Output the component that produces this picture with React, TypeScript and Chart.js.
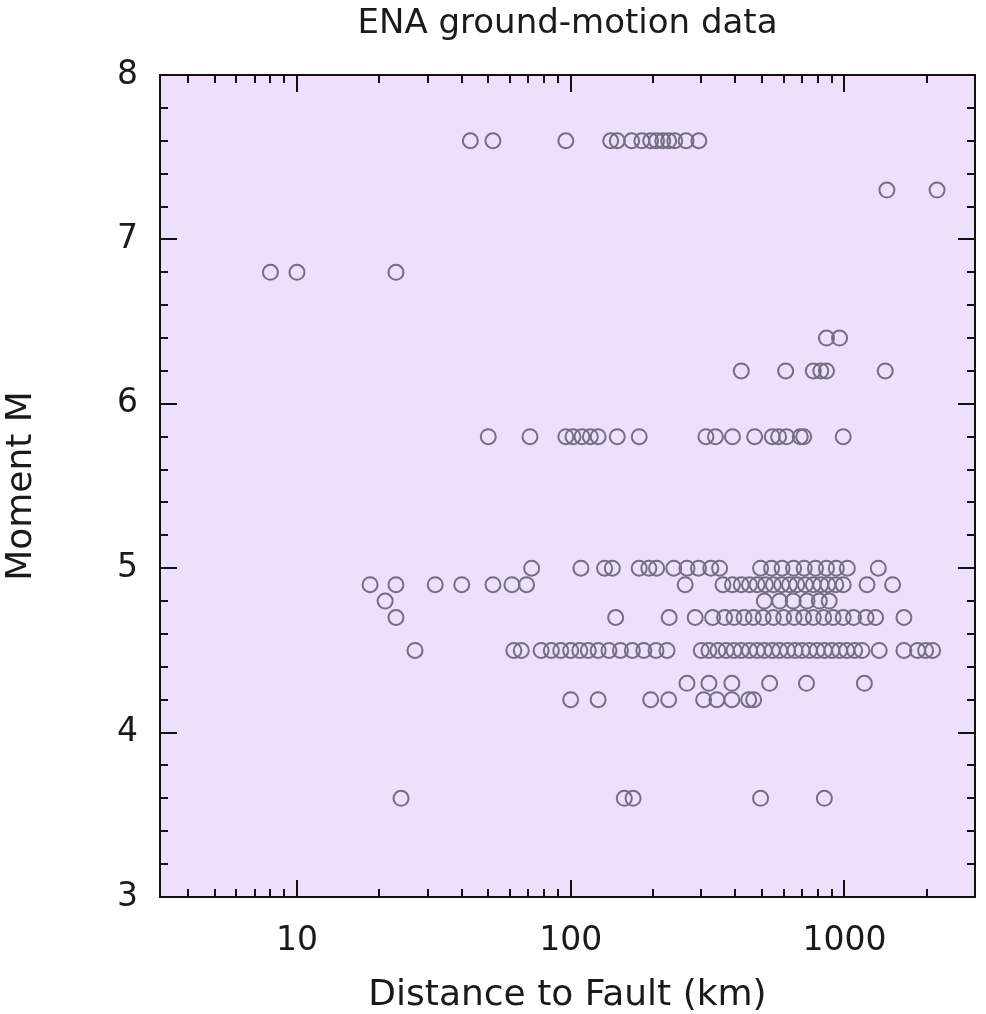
import React, { useEffect, useRef } from "react";
import { Chart, registerables } from "chart.js";

Chart.register(...registerables);

const TITLE = "ENA ground-motion data";
const X_TITLE = "Distance to Fault (km)";
const Y_TITLE = "Moment M";

const xTickLabels = [10, 100, 1000];
const yTickLabels = [3, 4, 5, 6, 7, 8];

const magnitudes = [7.6, 7.3, 6.8, 6.4, 6.2, 5.8, 5.0, 4.9, 4.8, 4.7, 4.5, 4.3, 4.2, 3.6];

const dist76 = [43, 52, 96, 140, 148, 167, 182, 196, 206, 217, 228, 240, 264, 294];
const dist73 = [1430, 2180];
const dist68 = [8, 10, 23];
const dist64 = [860, 960];
const dist62 = [420, 610, 770, 820, 860, 1410];
const dist58 = [50, 71, 96, 102, 110, 118, 126, 148, 178, 312, 338, 390, 470, 545, 575, 615, 690, 710, 990];
const dist50 = [72, 109, 133, 142, 178, 193, 206, 238, 266, 293, 325, 350, 494, 542, 592, 652, 713, 784, 860, 934, 1025, 1330];
const dist49 = [18.5, 23, 32, 40, 52, 61, 69, 262, 360, 390, 420, 450, 480, 515, 550, 590, 630, 670, 720, 770, 820, 870, 930, 990, 1210, 1500];
const dist48 = [21, 510, 580, 650, 730, 810, 880];
const dist47 = [23, 146, 229, 285, 330, 365, 395, 430, 465, 505, 550, 600, 655, 710, 770, 840, 910, 990, 1080, 1200, 1300, 1650];
const dist45 = [27, 62, 66, 78, 85, 92, 100, 108, 116, 126, 138, 152, 168, 185, 205, 225, 300, 320, 345, 370, 395, 420, 450, 480, 510, 545, 580, 620, 660, 700, 745, 795, 845, 900, 960, 1020, 1090, 1160, 1340, 1650, 1850, 1980, 2100];
const dist43 = [266, 320, 388, 533, 727, 1183];
const dist42 = [100, 126, 196, 228, 306, 342, 388, 447, 466];
const dist36 = [24, 157, 169, 494, 845];

const distancesByMagnitude = [dist76, dist73, dist68, dist64, dist62, dist58, dist50, dist49, dist48, dist47, dist45, dist43, dist42, dist36];

const X_MIN = 3.16;
const X_MAX = 3000;
const Y_MIN = 3;
const Y_MAX = 8;

const FONT = "'DejaVu Sans', sans-serif";
const TEXT_COLOR = "#1a1a1a";
const PLOT_BG = "#EEDFFC";
const MARKER_COLOR = "#746e80";

const innerTicksPlugin = {
  id: "innerTicks",
  beforeDraw(chart: any) {
    const { ctx, chartArea } = chart;
    const { left, right, top, bottom } = chartArea;
    ctx.save();
    ctx.fillStyle = PLOT_BG;
    ctx.fillRect(left, top, right - left, bottom - top);
    ctx.restore();
  },
  afterDatasetsDraw(chart: any) {
    const { ctx, chartArea, scales } = chart;
    const { left, right, top, bottom } = chartArea;
    const xs = scales.x;
    const ys = scales.y;
    const MAJ = 17;
    const MIN = 8;
    ctx.save();
    ctx.strokeStyle = "#111";
    ctx.lineWidth = 2;
    ctx.beginPath();
    const xMajor: number[] = [];
    const xMinor: number[] = [];
    for (let dec = 1; dec <= 1000; dec *= 10) {
      for (let k = 1; k <= 9; k++) {
        const v = k * dec;
        if (v < X_MIN || v > X_MAX + 1e-6) continue;
        if (k === 1) xMajor.push(v);
        else xMinor.push(v);
      }
    }
    const drawX = (v: number, len: number) => {
      const px = Math.round(xs.getPixelForValue(v));
      ctx.moveTo(px, bottom);
      ctx.lineTo(px, bottom - len);
      ctx.moveTo(px, top);
      ctx.lineTo(px, top + len);
    };
    xMajor.forEach((v) => drawX(v, MAJ));
    xMinor.forEach((v) => drawX(v, MIN));
    const drawY = (v: number, len: number) => {
      const py = Math.round(ys.getPixelForValue(v));
      ctx.moveTo(left, py);
      ctx.lineTo(left + len, py);
      ctx.moveTo(right, py);
      ctx.lineTo(right - len, py);
    };
    for (let i = 0; i <= (Y_MAX - Y_MIN) * 5; i++) {
      const v = Y_MIN + i * 0.2;
      const isMajor = i % 5 === 0;
      drawY(v, isMajor ? MAJ : MIN);
    }
    ctx.stroke();
    ctx.lineWidth = 2;
    ctx.strokeRect(left, top, right - left, bottom - top);
    ctx.restore();
  },
};

export default function App() {
  const ref = useRef<HTMLCanvasElement>(null);

  useEffect(() => {
    const prevMargin = document.body.style.margin;
    document.body.style.margin = "0";
    const points: { x: number; y: number }[] = [];
    magnitudes.forEach((m, i) => {
      distancesByMagnitude[i].forEach((d) => points.push({ x: d, y: m }));
    });

    const chart = new Chart(ref.current as HTMLCanvasElement, {
      type: "scatter",
      data: {
        datasets: [
          {
            label: "ENA",
            data: points,
            pointStyle: "circle",
            pointRadius: 7.5,
            pointBorderWidth: 2,
            borderColor: MARKER_COLOR,
            pointBorderColor: MARKER_COLOR,
            backgroundColor: "rgba(0,0,0,0)",
            pointBackgroundColor: "rgba(0,0,0,0)",
          },
        ],
      },
      options: {
        responsive: false,
        animation: false,
        layout: { padding: { left: 0, right: 11, top: 0, bottom: 0 } },
        plugins: {
          legend: { display: false },
          tooltip: { enabled: false },
          title: {
            display: true,
            fullSize: false,
            text: TITLE,
            color: TEXT_COLOR,
            font: { family: FONT, size: 34, weight: "normal" },
            padding: { top: 4, bottom: 30.2 },
          },
        },
        scales: {
          x: {
            type: "logarithmic",
            position: "bottom",
            min: X_MIN,
            max: X_MAX,
            grid: { display: false, drawTicks: false },
            border: { display: false },
            afterBuildTicks: (s: any) => {
              s.ticks = xTickLabels.map((v) => ({ value: v }));
            },
            afterFit: (s: any) => {
              s.height = 117;
            },
            ticks: {
              color: TEXT_COLOR,
              font: { family: FONT, size: 33 },
              padding: 25,
              maxRotation: 0,
              autoSkip: false,
              callback: (v: any) => String(v),
            },
            title: {
              display: true,
              text: X_TITLE,
              color: TEXT_COLOR,
              font: { family: FONT, size: 36 },
              padding: { top: 0, bottom: -3 },
            },
          },
          y: {
            type: "linear",
            position: "left",
            min: Y_MIN,
            max: Y_MAX,
            grid: { display: false, drawTicks: false },
            border: { display: false },
            afterBuildTicks: (s: any) => {
              s.ticks = yTickLabels.map((v) => ({ value: v }));
            },
            afterFit: (s: any) => {
              s.width = 160;
            },
            ticks: {
              color: TEXT_COLOR,
              font: { family: FONT, size: 33 },
              padding: 22,
              callback: (v: any) => String(v),
            },
            title: {
              display: true,
              text: Y_TITLE,
              color: TEXT_COLOR,
              font: { family: FONT, size: 36 },
              padding: { top: 0, bottom: 0 },
            },
          },
        },
      } as any,
      plugins: [innerTicksPlugin],
    });

    return () => {
      chart.destroy();
      document.body.style.margin = prevMargin;
    };
  }, []);

  return (
    <div style={{ width: 986, height: 1014, background: "#ffffff" }}>
      <canvas ref={ref} width={986} height={1014} style={{ display: "block" }} />
    </div>
  );
}
